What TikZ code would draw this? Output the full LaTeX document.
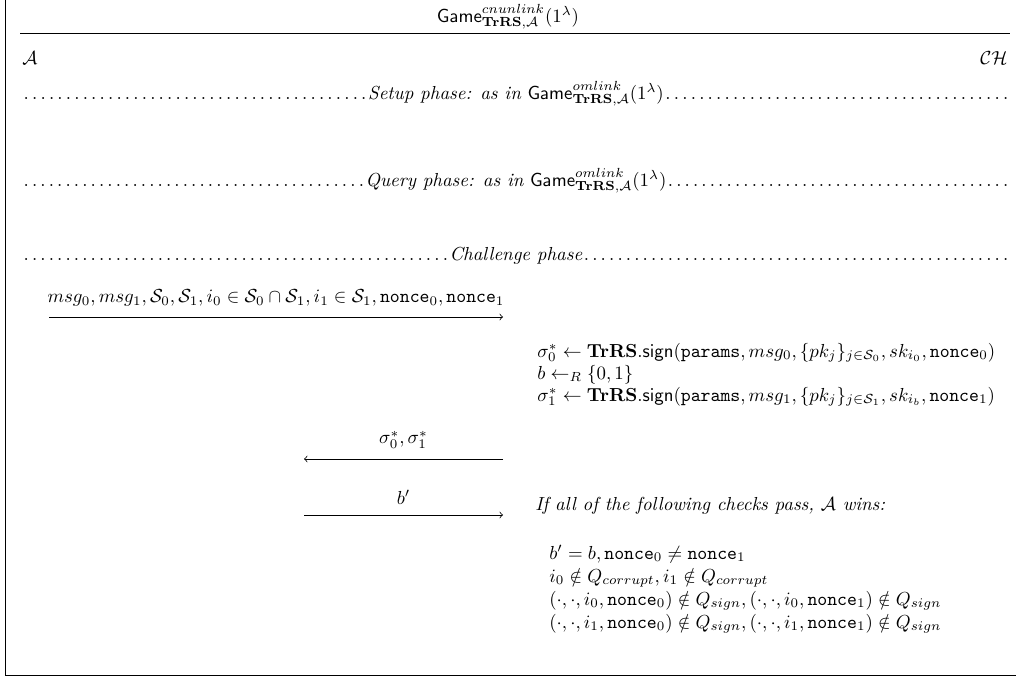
\documentclass[tikz,border=0pt]{standalone}
\usepackage{amsmath,amssymb}
\newcommand{\mydotfill}{\xleaders\hbox to 0.44em{\hss.\hss}\hfill}
\begin{document}
\begin{tikzpicture}[x=0.53pt,y=-0.53pt,
  txt/.style={inner sep=0pt,anchor=base west},
  phase/.style={inner sep=0pt,anchor=base},
  msg/.style={->,line width=0.4pt},
  frame/.style={line width=0.5pt}]
\useasboundingbox (0,0) rectangle (1016,677);
% frame
\coordinate (ftl) at (5,0);
\coordinate (fbl) at (5,675);
\coordinate (fbr) at (1016,675);
\draw[frame] (ftl) -- (fbl) -- (fbr);
% title
\node[phase] (title) at (508,22) {$\mathsf{Game}^{cnunlink}_{\mathbf{TrRS},\mathcal{A}}(1^{\lambda})$};
\coordinate (rl) at (20,33);
\coordinate (rr) at (1010,33);
\draw[frame] (rl) -- (rr);
\node[txt] (adv) at (22,64) {$\mathcal{A}$};
\node[inner sep=0pt,anchor=base east] (ch) at (1008,64) {$\mathcal{CH}$};
% phases
\node[phase] (setup) at (516,99) {\makebox[523.6pt]{\mydotfill\textit{Setup phase: as in} $\mathsf{Game}^{omlink}_{\mathbf{TrRS},\mathcal{A}}(1^{\lambda})$\mydotfill}};
\node[phase] (query) at (516,186) {\makebox[523.6pt]{\mydotfill\textit{Query phase: as in} $\mathsf{Game}^{omlink}_{\mathbf{TrRS},\mathcal{A}}(1^{\lambda})$\mydotfill}};
\node[phase] (chal) at (516,260) {\makebox[523.6pt]{\mydotfill\textit{Challenge phase}\mydotfill}};
% arrow 1
\coordinate (a1s) at (49,317);
\coordinate (a1e) at (503,317);
\draw[msg] (a1s) -- node[above=2pt] (l1) {$msg_0, msg_1, \mathcal{S}_0, \mathcal{S}_1, i_0 \in \mathcal{S}_0 \cap \mathcal{S}_1, i_1 \in \mathcal{S}_1, \mathtt{nonce}_0, \mathtt{nonce}_1$} (a1e);
% challenger computations
\node[txt] (c1) at (537,357) {$\sigma_0^* \leftarrow \mathbf{TrRS}.\mathsf{sign}(\mathtt{params}, msg_0, \{pk_j\}_{j\in\mathcal{S}_0}, sk_{i_0}, \mathtt{nonce}_0)$};
\node[txt] (c2) at (537,379) {$b \leftarrow_R \{0,1\}$};
\node[txt] (c3) at (537,401) {$\sigma_1^* \leftarrow \mathbf{TrRS}.\mathsf{sign}(\mathtt{params}, msg_1, \{pk_j\}_{j\in\mathcal{S}_1}, sk_{i_b}, \mathtt{nonce}_1)$};
% arrow 2
\coordinate (a2s) at (503,459);
\coordinate (a2e) at (304,459);
\draw[msg] (a2s) -- node[above=2pt] (l2) {$\sigma_0^*, \sigma_1^*$} (a2e);
% arrow 3
\coordinate (a3s) at (304,515);
\coordinate (a3e) at (503,515);
\draw[msg] (a3s) -- node[above=2pt] (l3) {$b'$} (a3e);
% checks
\node[txt] (w) at (535,510) {\textit{If all of the following checks pass, $\mathcal{A}$ wins:}};
\node[txt] (k1) at (549,559) {$b' = b, \mathtt{nonce}_0 \neq \mathtt{nonce}_1$};
\node[txt] (k2) at (549,582) {$i_0 \notin Q_{corrupt}, i_1 \notin Q_{corrupt}$};
\node[txt] (k3) at (549,605) {$(\cdot,\cdot,i_0,\mathtt{nonce}_0) \notin Q_{sign}, (\cdot,\cdot,i_0,\mathtt{nonce}_1) \notin Q_{sign}$};
\node[txt] (k4) at (549,628) {$(\cdot,\cdot,i_1,\mathtt{nonce}_0) \notin Q_{sign}, (\cdot,\cdot,i_1,\mathtt{nonce}_1) \notin Q_{sign}$};
\end{tikzpicture}
\end{document}
